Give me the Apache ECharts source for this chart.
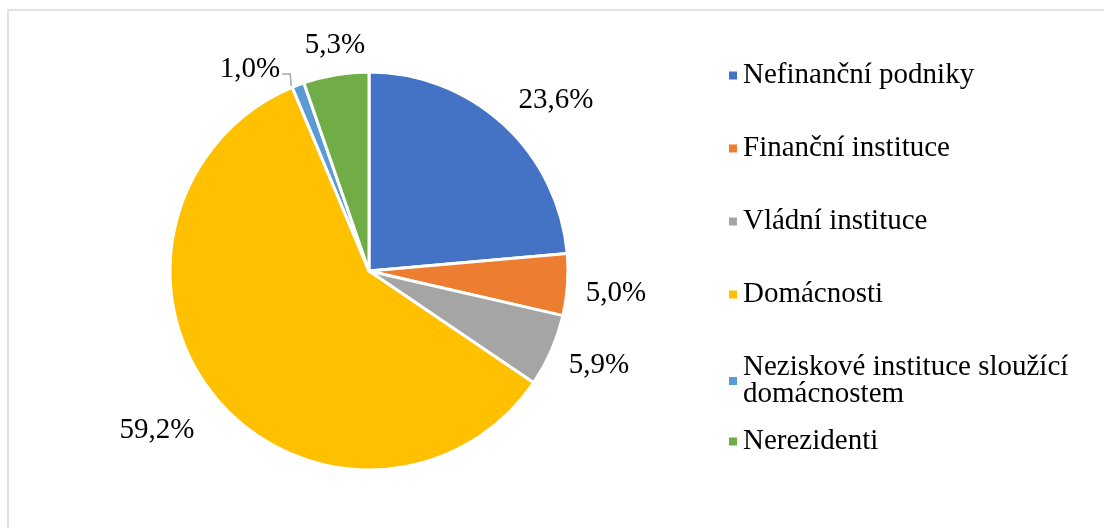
<!DOCTYPE html>
<html>
<head>
<meta charset="utf-8">
<script src="https://cdn.jsdelivr.net/npm/echarts@6/dist/echarts.min.js"></script>
<style>
  html, body { margin: 0; padding: 0; background: #fff; }
  #main { width: 1104px; height: 528px; }
</style>
</head>
<body>
<div id="main"></div>
<script>
var categories = [
  'Nefinanční podniky',
  'Finanční instituce',
  'Vládní instituce',
  'Domácnosti',
  'Neziskové instituce sloužící domácnostem',
  'Nerezidenti'
];
var shares = [23.6, 5.0, 5.9, 59.2, 1.0, 5.3];
var colors = ['#4472C4', '#ED7D31', '#A5A5A5', '#FFC000', '#5B9BD5', '#70AD47'];

// label placement (Excel "best fit" look), centre of each label in px
var labelPos = [[556, 100], [616, 293], [599, 365], [157, 430], [250, 69], [335, 45]];

var chart = echarts.init(document.getElementById('main'), null, { renderer: 'canvas' });

var data = categories.map(function (name, i) {
  return {
    name: name,
    value: shares[i],
    itemStyle: { color: colors[i] },
    labelLine: { show: i === 4 }
  };
});

var font = '"Liberation Serif", "Times New Roman", serif';
var legendText = {
  fontFamily: font, fontSize: 29, color: '#000', lineHeight: 27
};

var option = {
  backgroundColor: '#fff',
  animation: false,
  graphic: [{
    type: 'rect',
    shape: { x: 8, y: 10, width: 1200, height: 600 },
    style: { fill: 'none', stroke: '#d9d9d9', lineWidth: 1.5 },
    silent: true
  }],
  legend: [{
    orient: 'vertical',
    left: 722,
    top: 56,
    itemWidth: 10,
    itemHeight: 10,
    itemGap: 44,
    icon: 'rect',
    data: categories.slice(0, 5),
    formatter: function (name) {
      return name.replace(' domácnostem', '\ndomácnostem');
    },
    textStyle: legendText
  }, {
    orient: 'vertical',
    left: 722,
    top: 422,
    itemWidth: 10,
    itemHeight: 10,
    icon: 'rect',
    data: categories.slice(5),
    textStyle: legendText
  }],
  series: [{
    type: 'pie',
    center: [369, 271],
    radius: [0, 199],
    startAngle: 90,
    clockwise: true,
    avoidLabelOverlap: false,
    data: data,
    itemStyle: { borderColor: '#fff', borderWidth: 3 },
    label: {
      position: 'outside',
      fontFamily: font,
      fontSize: 29,
      color: '#000',
      formatter: function (p) {
        return p.value.toFixed(1).replace('.', ',') + '%';
      }
    },
    labelLine: {
      length: 30,
      length2: 0,
      lineStyle: { color: '#A6A6A6', width: 1.5 }
    },
    labelLayout: function (p) {
      var pos = labelPos[p.dataIndex];
      var out = { x: pos[0], y: pos[1], align: 'center', verticalAlign: 'middle' };
      if (p.dataIndex === 4) {
        var right = pos[0] + p.labelRect.width / 2;
        out.labelLinePoints = [[right + 2, pos[1] + 5], [right + 10, pos[1] + 5], [right + 11, pos[1] + 17]];
      }
      return out;
    },
    emphasis: { disabled: true }
  }]
};

chart.setOption(option);
</script>
</body>
</html>
